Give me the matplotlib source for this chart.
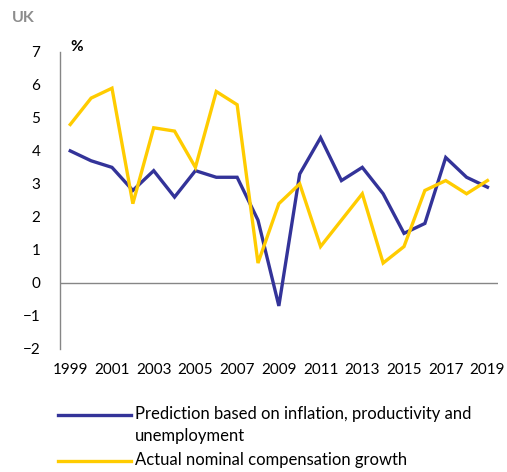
import numpy as np
import matplotlib.pyplot as plt
from matplotlib.lines import Line2D

plt.rcParams['font.family'] = ['Lato', 'DejaVu Sans']

years = list(range(1999, 2020))
prediction = [4.0, 3.7, 3.5, 2.8, 3.4, 2.6, 3.4, 3.2, 3.2, 1.9, -0.7,
              3.3, 4.4, 3.1, 3.5, 2.7, 1.5, 1.8, 3.8, 3.2, 2.9]
actual = [4.8, 5.6, 5.9, 2.4, 4.7, 4.6, 3.5, 5.8, 5.4, 0.6, 2.4,
          3.0, 1.1, 1.9, 2.7, 0.6, 1.1, 2.8, 3.1, 2.7, 3.1]
labels = ['Prediction based on inflation, productivity and\nunemployment',
          'Actual nominal compensation growth']

blue = '#333399'
yellow = '#FFCC00'
grey = '#868686'

W, H = 507, 472
fig = plt.figure(figsize=(W / 100, H / 100), dpi=100)
ax = fig.add_axes([0.118, 0.261, 0.864, 0.629])

x = np.arange(len(years))
ax.plot(x, prediction, color=blue, lw=2.4, solid_joinstyle='miter')
ax.plot(x, actual, color=yellow, lw=2.4, solid_joinstyle='miter')

ax.set_xlim(-0.5, len(years) - 0.5)
ax.set_ylim(-2, 7)
ax.set_yticks(range(-2, 8))
ax.set_xticks(x[::2])
ax.set_xticklabels([str(y) for y in years[::2]])
ax.tick_params(axis='both', length=0, labelsize=11, colors='black')
ax.tick_params(axis='y', pad=14)
ax.tick_params(axis='x', pad=10)

for s in ['top', 'right', 'bottom']:
    ax.spines[s].set_visible(False)
ax.spines['left'].set_color(grey)
ax.spines['left'].set_linewidth(1)
ax.axhline(0, color=grey, lw=1, zorder=0)

fig.text(0.024, 0.962, 'UK', fontsize=11.5, fontweight='bold', color='#8c8c8c',
         va='center', ha='left')
fig.text(0.138, 0.9, '%', fontsize=11, fontweight='bold', color='black',
         va='center', ha='left')

# legend drawn by hand so the key sits on the first text line
def px(xp, yp):
    return xp / W, 1 - yp / H

for (color, label, ytop) in [(blue, labels[0], 415), (yellow, labels[1], 461)]:
    x0, y0 = px(58, ytop)
    x1, _ = px(131, ytop)
    fig.add_artist(Line2D([x0, x1], [y0, y0], color=color, lw=2.4,
                          transform=fig.transFigure))
    tx, _ = px(135, ytop)
    _, ty = px(0, ytop - 9)
    fig.text(tx, ty, label, fontsize=12, va='top', ha='left', linespacing=1.5)

fig.savefig('out.png', dpi=100)
